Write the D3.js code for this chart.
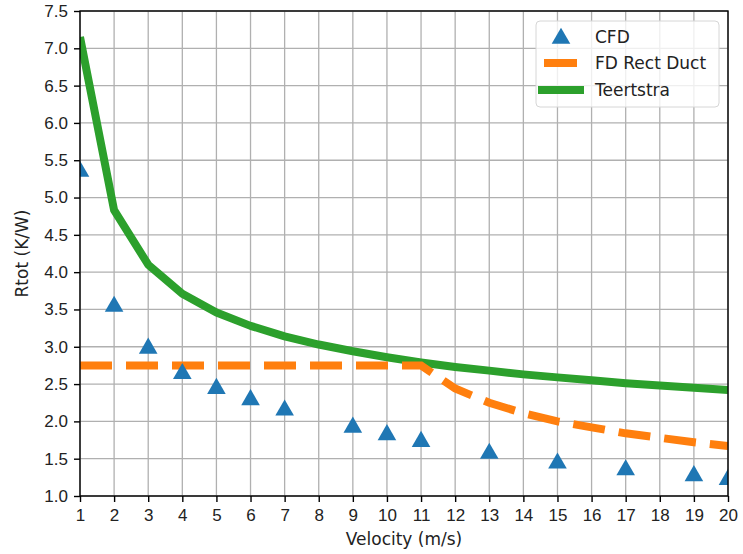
<!DOCTYPE html>
<html>
<head>
<meta charset="utf-8">
<script src="https://cdn.jsdelivr.net/npm/d3@7"></script>
<style>
  html, body { margin: 0; padding: 0; background: #fff; overflow: hidden; }
  svg { display: block; font-family: "DejaVu Sans", sans-serif; }
  .grid line { stroke: #b0b0b0; stroke-width: 1.3; }
  .axis path, .axis line { stroke: #000; stroke-width: 1.4; }
  .axis text { font-size: 17px; fill: #222; }
</style>
</head>
<body>
<div id="chart"></div>
<script>
/* data */
var cfdV = [1, 2, 3, 4, 5, 6, 7, 9, 10, 11, 13, 15, 17, 19, 20],
    cfdR = [5.37, 3.56, 3.0, 2.66, 2.46, 2.31, 2.17, 1.94, 1.84, 1.75, 1.59, 1.46, 1.37, 1.29, 1.24];

var lineV = d3.range(1, 21),
    fdR = [2.75, 2.75, 2.75, 2.75, 2.75, 2.75, 2.75, 2.75, 2.75, 2.75, 2.75,
           2.44, 2.25, 2.11, 2.0, 1.92, 1.84, 1.78, 1.72, 1.67],
    teerR = [7.15, 4.83, 4.1, 3.71, 3.46, 3.28, 3.14, 3.03, 2.94, 2.86, 2.79,
             2.73, 2.68, 2.63, 2.59, 2.55, 2.51, 2.48, 2.45, 2.42];

var xTicks = d3.range(1, 21),
    yTicks = d3.range(1, 7.51, 0.5);

var series = ["CFD", "FD Rect Duct", "Teertstra"],
    colors = {CFD: "#1f77b4", "FD Rect Duct": "#ff7f0e", Teertstra: "#2ca02c"};

/* layout */
var outerWidth = 743,
    outerHeight = 554,
    margin = {top: 11, right: 15, bottom: 58, left: 80},
    innerWidth = outerWidth - margin.left - margin.right,
    innerHeight = outerHeight - margin.top - margin.bottom;

var svg = d3.select("#chart").append("svg")
    .attr("width", outerWidth)
    .attr("height", outerHeight);

var main = svg.append("g")
    .attr("transform", "translate(" + margin.left + "," + margin.top + ")");

var x = d3.scaleLinear().domain([1, 20]).range([0, innerWidth]),
    y = d3.scaleLinear().domain([1, 7.5]).range([innerHeight, 0]);

svg.append("defs").append("clipPath")
    .attr("id", "clip")
    .append("rect")
    .attr("width", innerWidth)
    .attr("height", innerHeight);

// grids
var grid = main.append("g").attr("class", "grid");
grid.selectAll(".gx").data(xTicks).enter().append("line")
    .attr("x1", d => x(d)).attr("x2", d => x(d))
    .attr("y1", 0).attr("y2", innerHeight);
grid.selectAll(".gy").data(yTicks).enter().append("line")
    .attr("y1", d => y(d)).attr("y2", d => y(d))
    .attr("x1", 0).attr("x2", innerWidth);

// marks
var plot = main.append("g").attr("clip-path", "url(#clip)");

var line = d3.line()
    .x(d => x(d[0]))
    .y(d => y(d[1]));

plot.append("path")
    .datum(d3.zip(lineV, teerR))
    .attr("fill", "none")
    .attr("stroke", colors.Teertstra)
    .attr("stroke-width", 8)
    .attr("stroke-linejoin", "round")
    .attr("d", line);

plot.append("path")
    .datum(d3.zip(lineV, fdR))
    .attr("fill", "none")
    .attr("stroke", colors["FD Rect Duct"])
    .attr("stroke-width", 8)
    .attr("stroke-dasharray", "32,14")
    .attr("d", line);

var tri = d3.symbol().type(d3.symbolTriangle).size(150);

plot.selectAll(".cfd").data(d3.zip(cfdV, cfdR)).enter().append("path")
    .attr("d", tri)
    .attr("fill", colors.CFD)
    .attr("transform", d => "translate(" + x(d[0]) + "," + (y(d[1]) + 1.5) + ")");

// axes
main.append("g")
    .attr("class", "axis")
    .attr("transform", "translate(0," + innerHeight + ")")
    .call(d3.axisBottom(x).tickValues(xTicks).tickSize(6).tickPadding(7).tickFormat(d3.format("d")))
    .call(g => g.select(".domain").remove());

main.append("g")
    .attr("class", "axis")
    .call(d3.axisLeft(y).tickValues(yTicks).tickSize(6).tickPadding(6).tickFormat(d3.format(".1f")))
    .call(g => g.select(".domain").remove());

// spines
main.append("rect")
    .attr("width", innerWidth)
    .attr("height", innerHeight)
    .attr("fill", "none")
    .attr("stroke", "#000")
    .attr("stroke-width", 1.4);

// axis labels
svg.append("text")
    .attr("x", margin.left + innerWidth / 2)
    .attr("y", 545)
    .attr("text-anchor", "middle")
    .attr("font-size", 17)
    .attr("fill", "#222")
    .text("Velocity (m/s)");

svg.append("text")
    .attr("transform", "translate(28," + (margin.top + innerHeight / 2) + ") rotate(-90)")
    .attr("text-anchor", "middle")
    .attr("font-size", 17)
    .attr("fill", "#222")
    .text("Rtot (K/W)");

// legend
var lgd = svg.append("g").attr("transform", "translate(536,21)");
lgd.append("rect")
    .attr("width", 183)
    .attr("height", 86)
    .attr("rx", 4)
    .attr("fill", "#fff")
    .attr("fill-opacity", 0.8)
    .attr("stroke", "#d6d6d6")
    .attr("stroke-width", 1);

var rowY = [16, 42, 69];
lgd.append("path")
    .attr("d", tri)
    .attr("fill", colors.CFD)
    .attr("transform", "translate(25," + (rowY[0] + 1.5) + ")");
lgd.append("line")
    .attr("x1", 8).attr("x2", 41)
    .attr("y1", rowY[1]).attr("y2", rowY[1])
    .attr("stroke", colors["FD Rect Duct"])
    .attr("stroke-width", 8);
lgd.append("line")
    .attr("x1", 2).attr("x2", 48)
    .attr("y1", rowY[2]).attr("y2", rowY[2])
    .attr("stroke", colors.Teertstra)
    .attr("stroke-width", 8);

lgd.selectAll(".lt").data(series).enter().append("text")
    .attr("x", 59)
    .attr("y", (d, i) => rowY[i])
    .attr("dy", "0.35em")
    .attr("font-size", 17)
    .attr("fill", "#222")
    .text(d => d);
</script>
</body>
</html>
